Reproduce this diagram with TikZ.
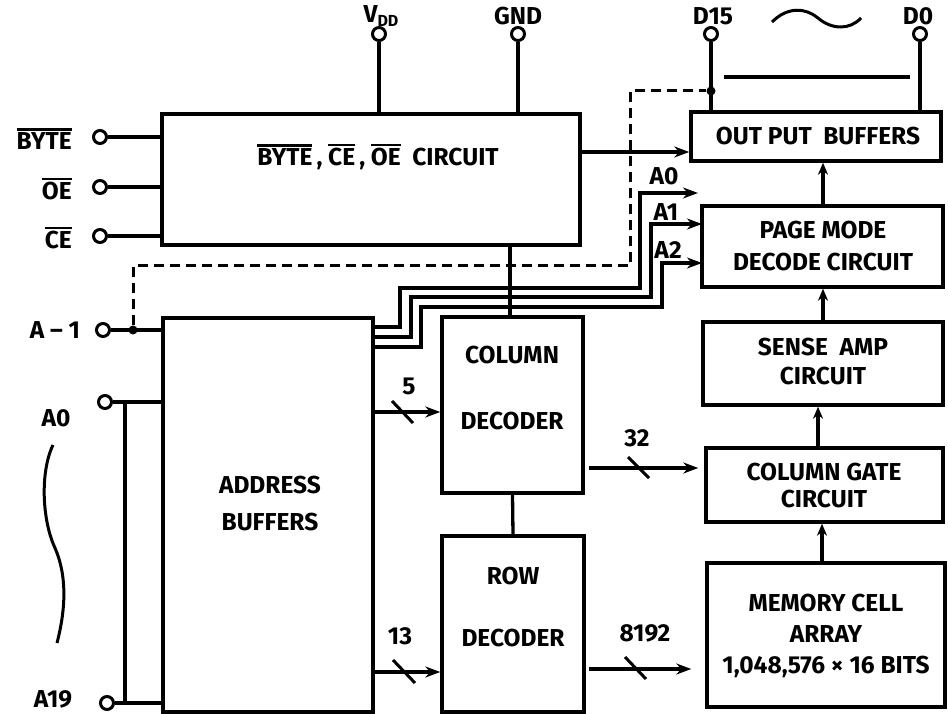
\documentclass[tikz,border=0pt]{standalone}
\usepackage{fontspec}
\setmainfont{Fira Sans}
\usetikzlibrary{arrows.meta}
\newcommand{\ovl}[1]{\leavevmode\vbox{\hrule height 2.2pt\kern 2.2pt\hbox{#1}}}
\begin{document}
\begin{tikzpicture}[x=1pt,y=-1pt,
  blk/.style={draw, line width=3.4pt, rectangle, inner sep=0pt},
  txt/.style={font=\fontsize{24.5}{27}\selectfont\bfseries, inner sep=0pt, align=center},
  pin/.style={circle, draw, fill=white, line width=3pt, minimum size=13pt, inner sep=0pt},
  dot/.style={circle, fill=black, minimum size=9pt, inner sep=0pt},
  wire/.style={line width=3.3pt},
  arr/.style={wire, -{Stealth[length=15pt,width=11pt]}},
  varr/.style={wire, -{Stealth[length=12pt,width=10pt]}},
  dsh/.style={line width=3pt, dash pattern=on 10pt off 6pt},
  tick/.style={line width=3pt}]
\useasboundingbox[fill=white] (0,0) rectangle (948,714);

% blocks
\node[blk, minimum width=418pt, minimum height=131pt] (ctrl) at (371,179.5) {};
\node[txt] (ctrlt) at (378,157) {\ovl{BYTE}\,,\ \ovl{CE}\,,\ \ovl{OE}\ \ CIRCUIT};
\node[blk, minimum width=210pt, minimum height=394pt] (addr) at (268,515) {};
\node[txt] (addrt) at (270,504) {ADDRESS\\[10pt]BUFFERS};
\node[blk, minimum width=141pt, minimum height=176pt] (coldec) at (512.5,405) {};
\node[txt] (coldt1) at (512,355) {COLUMN};
\node[txt] (coldt2) at (512,421) {DECODER};
\node[blk, minimum width=142pt, minimum height=176pt] (rowdec) at (513,624) {};
\node[txt] (rowdt1) at (513,576) {ROW};
\node[txt] (rowdt2) at (513,638) {DECODER};
\node[blk, minimum width=250pt, minimum height=49pt] (outbuf) at (816,136.5) {};
\node[txt] (outbuft) at (818,136) {OUT PUT\ \ BUFFERS};
\node[blk, minimum width=241pt, minimum height=81pt] (page) at (822.5,246.5) {};
\node[txt] (paget) at (823,246) {PAGE MODE\\[5pt]DECODE CIRCUIT};
\node[blk, minimum width=240pt, minimum height=83pt] (sense) at (823,363.5) {};
\node[txt] (senset) at (823,362) {SENSE\ \ AMP\\[2pt]CIRCUIT};
\node[blk, minimum width=237pt, minimum height=74pt] (colgate) at (824.5,485) {};
\node[txt] (colgatet) at (824,486) {COLUMN GATE\\[0pt]CIRCUIT};
\node[blk, minimum width=238pt, minimum height=144pt] (mem) at (826,635) {};
\node[txt] (memt) at (826,636) {MEMORY CELL\\[4pt]ARRAY\\[4pt]1,048,576 × 16 BITS};

% top pins
\node[pin] (vdd) at (379,34) {};
\node[pin] (gnd) at (518,34) {};
\node[pin] (d15) at (711,34) {};
\node[pin] (d0) at (920,34) {};
\node[txt] (vddl) at (381,16) {V\raisebox{-4pt}{\fontsize{16}{16}\selectfont DD}};
\node[txt] (gndl) at (518,16) {GND};
\node[txt] (d15l) at (713,16) {D15};
\node[txt] (d0l) at (918,16) {D0};
\draw[wire] (vdd) -- (vdd |- ctrl.north);
\draw[wire] (gnd) -- (gnd |- ctrl.north);
\draw[wire] (d15) -- (d15 |- outbuf.north);
\draw[wire] (d0) -- (d0 |- outbuf.north);
\coordinate (hl1) at (724,77);
\coordinate (hl2) at (910,77);
\draw[wire] (hl1) -- (hl2);
\node[dot] (d15j) at (711,91) {};
\draw[line width=3pt] (772,22) .. controls (788,6) and (806,8) .. (818,18) .. controls (832,30) and (850,30) .. (861,18);

% left pins
\node[pin] (byte) at (100,137) {};
\node[pin] (oe) at (100,187) {};
\node[pin] (ce) at (100,236) {};
\node[pin] (am1) at (103,330) {};
\node[pin] (a0) at (105,402) {};
\node[pin] (a19) at (107,703) {};
\node[txt, anchor=east] (bytel) at (72,139) {\ovl{BYTE}};
\node[txt, anchor=east] (oel) at (72,189) {\ovl{OE}};
\node[txt, anchor=east] (cel) at (72,238) {\ovl{CE}};
\node[txt] (am1l) at (55,330) {A – 1};
\node[txt] (a0l) at (56,418) {A0};
\node[txt] (a19l) at (53,699) {A19};
\draw[wire] (byte) -- (byte -| ctrl.west);
\draw[wire] (oe) -- (oe -| ctrl.west);
\draw[wire] (ce) -- (ce -| ctrl.west);
\draw[wire] (am1) -- (am1 -| addr.west);
\draw[wire] (a0) -- (a0 -| addr.west);
\draw[wire] (a19) -- (a19 -| addr.west);
\coordinate (bus1) at (125,402);
\coordinate (bus2) at (125,703);
\draw[wire] (bus1) -- (bus2);
\draw[line width=3pt] (53,445) .. controls (40,472) and (42,520) .. (55,548) .. controls (68,578) and (65,612) .. (57,643);
\node[dot] (am1j) at (133,330) {};

% dashed A-1 line
\coordinate (dk1) at (133,266);
\coordinate (dk2) at (630,266);
\draw[dsh] (am1j) -- (dk1) -- (dk2) |- (d15j);

% address lines to page mode
\coordinate (s0) at (373,327);
\coordinate (s1) at (373,337);
\coordinate (s2) at (373,347);
\coordinate (e0) at (698,193);
\coordinate (e1) at (702,224);
\coordinate (e2) at (702,263);
\draw[arr] (s0) -- (400,327) -- (400,288) -- (640,288) -- (640,193) -- (e0);
\draw[arr] (s1) -- (411,337) -- (411,297) -- (651,297) -- (651,224) -- (e1);
\draw[arr] (s2) -- (421,347) -- (421,307) -- (662,307) -- (662,263) -- (e2);
\node[txt] (a0r) at (664,176) {A0};
\node[txt] (a1r) at (666,212) {A1};
\node[txt] (a2r) at (668,250) {A2};

% ctrl to column decoder and output buffers
\draw[wire] ([xshift=-2.5pt]coldec.north) -- ([xshift=-2.5pt]coldec.north |- ctrl.south);
\coordinate (cy) at (0,152);
\draw[arr] (ctrl.east |- cy) -- (outbuf.west |- cy);
\draw[wire] (coldec.south) -- (rowdec.north);

% buses
\coordinate (y5) at (0,412);
\coordinate (y13) at (0,672);
\coordinate (y32) at (0,468);
\coordinate (y8k) at (0,669);
\draw[arr] (addr.east |- y5) -- (coldec.west |- y5);
\draw[arr] (addr.east |- y13) -- (rowdec.west |- y13);
\draw[arr, shorten <=4pt, shorten >=6pt] (coldec.east |- y32) -- (colgate.west |- y32);
\draw[arr, shorten <=3pt, shorten >=14pt] (rowdec.east |- y8k) -- (mem.west |- y8k);
\draw[tick] (392,401) -- (413,423);
\draw[tick] (393,660) -- (415,683);
\draw[tick] (628,457) -- (649,478);
\draw[tick] (625,657) -- (646,679);
\node[txt] (n5) at (409,386) {5};
\node[txt] (n13) at (400,636) {13};
\node[txt] (n32) at (637,438) {32};
\node[txt] (n8k) at (645,633) {8192};

% right column arrows
\draw[varr] ([xshift=-4pt]mem.north) -- ([xshift=-4pt]mem.north |- colgate.south);
\draw[varr] ([xshift=-6.5pt]colgate.north) -- ([xshift=-6.5pt]colgate.north |- sense.south);
\draw[varr] (sense.north) -- (sense.north |- page.south);
\draw[varr] ([xshift=0.5pt]page.north) -- ([xshift=0.5pt]page.north |- outbuf.south);
\end{tikzpicture}
\end{document}
